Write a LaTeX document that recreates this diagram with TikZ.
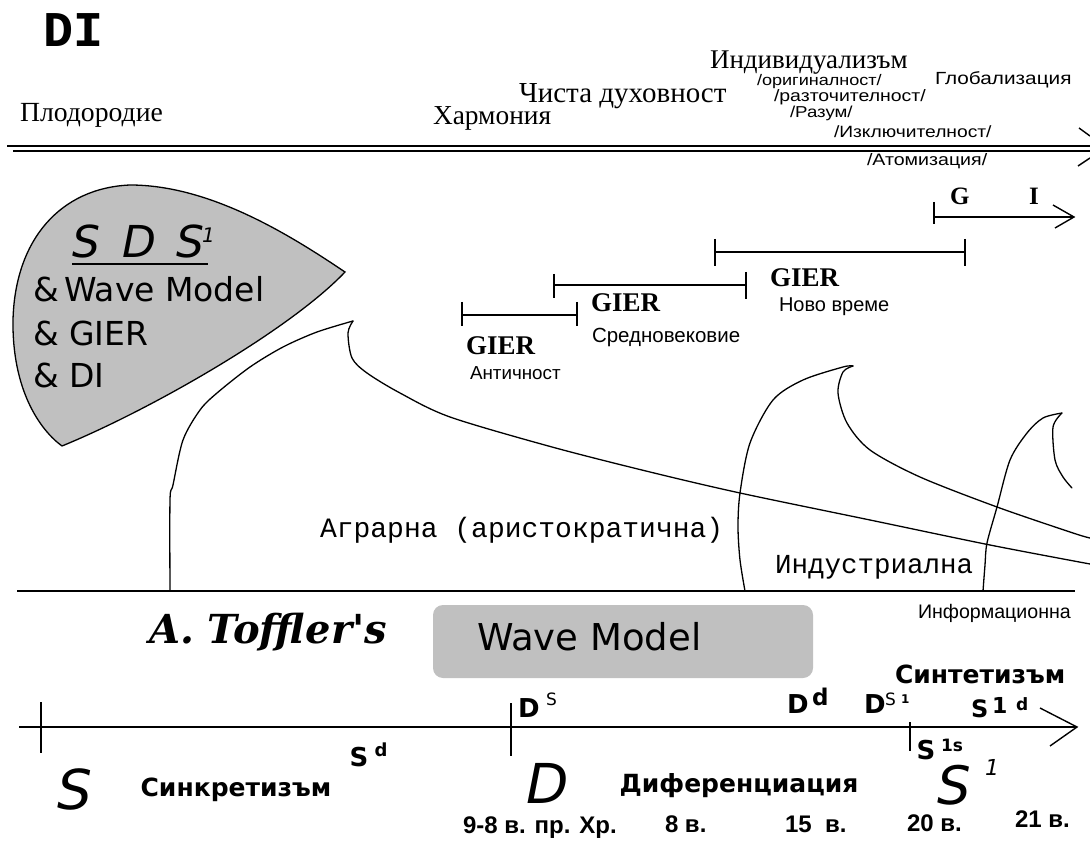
\documentclass[tikz,border=0pt]{standalone}
\usepackage{fontspec}
\setmainfont{Liberation Serif}
\newfontfamily\fSerif{Liberation Serif}
\newfontfamily\fSans{Liberation Sans}
\newfontfamily\fSansW[FakeStretch=1.18]{Liberation Sans}
\newfontfamily\fDV{DejaVu Sans}
\newfontfamily\fMono{Liberation Mono}
\newfontfamily\fDVSerif{DejaVu Serif}
\newcommand\fsz[1]{\fontsize{#1}{#1}\selectfont}
\definecolor{leafgray}{RGB}{192,192,192}
\begin{document}
\begin{tikzpicture}[x=1pt,y=-1pt,
  txt/.style={inner sep=0pt,outer sep=0pt,anchor=base west},
  ctr/.style={inner sep=0pt,outer sep=0pt,anchor=center},
  ln/.style={line width=1.4pt},
  wave/.style={line width=1.3pt,line join=round,line cap=round},
  tick/.style={line width=1.4pt}]
\useasboundingbox (0,0) rectangle (1090,850);
\fill[white] (0,0) rectangle (1090,850);
\clip (0,0) rectangle (1090,850);

% ---------- top title and double line ----------
\node[txt] (di) at (43,47) {\fMono\bfseries\fsz{50}DI};
\draw[ln,line width=1.6pt] (7,146) -- (1090,146);
\draw[ln,line width=1.6pt] (13,151) -- (1090,151);
\draw[ln] (1079,128) -- (1090,136);
\draw[ln] (1078,166) -- (1090,158);

\node[txt] (plod) at (20,122) {\fSerif\fsz{27.7}Плодородие};
\node[txt] (harm) at (433,125) {\fSerif\fsz{27.4}Хармония};
\node[txt] (chis) at (519,103) {\fSerif\fsz{29}Чиста духовност};
\node[txt] (indiv) at (710,69) {\fSerif\fsz{27}Индивидуализъм};
\node[txt] (orig) at (757,86) {\fSansW\fsz{15.3}/оригиналност/};
\node[txt] (razt) at (774,102) {\fSansW\fsz{16.5}/разточителност/};
\node[txt] (razum) at (790,118) {\fSansW\fsz{15.8}/Разум/};
\node[txt] (izkl) at (834,138) {\fSansW\fsz{16.3}/Изключителност/};
\node[txt] (atom) at (867,166) {\fSansW\fsz{16.6}/Атомизация/};
\node[txt] (glob) at (935,85) {\fSansW\fsz{17.6}Глобализация};

% ---------- G - I arrow ----------
\coordinate (gi0) at (934,217);
\coordinate (gi1) at (1074,217);
\draw[tick] (934,202) -- (934,224);
\draw[ln] (gi0) -- (gi1);
\draw[ln] (1053,205) -- (gi1) -- (1055,228);
\node[txt] (g) at (950,205) {\fSerif\bfseries\fsz{25}G};
\node[txt] (i) at (1029,205) {\fSerif\bfseries\fsz{25}I};

% ---------- GIER bars ----------
\draw[ln] (462,315) -- (577,315);
\draw[tick] (462,302) -- (462,326); \draw[tick] (577,302) -- (577,326);
\draw[ln] (554,285) -- (746,285);
\draw[tick] (554,274) -- (554,298); \draw[tick] (746,272) -- (746,299);
\draw[ln] (715,252) -- (965,252);
\draw[tick] (715,239) -- (715,266); \draw[tick] (965,239) -- (965,266);

\node[txt] (gier3) at (770,287) {\fSerif\bfseries\fsz{27}GIER};
\node[txt] (novo) at (779,312) {\fSans\fsz{20}Ново време};
\node[txt] (gier2) at (591,312) {\fSerif\bfseries\fsz{27}GIER};
\node[txt] (sredn) at (592,343) {\fSans\fsz{20.5}Средновековие};
\node[txt] (gier1) at (466,355) {\fSerif\bfseries\fsz{27}GIER};
\node[txt] (antich) at (470,380) {\fSans\fsz{18.8}Античност};

% ---------- shaded leaf ----------
\draw[fill=leafgray,line width=1.3pt] (345,272) .. controls (290,235) and (210,185) .. (130,185)
  .. controls (60,188) and (15,240) .. (13,320)
  .. controls (12,390) and (40,430) .. (62,446)
  .. controls (150,410) and (290,330) .. (345,272) -- cycle;
\node[txt] (ls1) at (72,258) {\fDV\itshape\fsz{44}S};
\node[txt] (ld) at (122,258) {\fDV\itshape\fsz{44}D};
\node[txt] (ls2) at (176,258) {\fDV\itshape\fsz{44}S};
\node[txt] (lone) at (202,243) {\fDV\itshape\fsz{20}1};
\draw[line width=1.3pt] (72,264) -- (208,264);
\node[txt] (lwm) at (33,302) {\fDV\fsz{33}\&\,Wave Model};
\node[txt] (lgier) at (33,345) {\fDV\fsz{33}\& GIER};
\node[txt] (ldi) at (33,388) {\fDV\fsz{33}\& DI};

% ---------- waves ----------
\draw[wave] plot[smooth,tension=0.5] coordinates {(170,591) (170,500) (173,485) (183,440) (200,410) (217,393) (250,367) (283,347) (317,332) (353,321)};
\draw[wave] plot[smooth,tension=0.5] coordinates {(353,321) (348,333) (352,358) (367,373) (400,393) (450,417) (552,447) (650,472) (740,493) (870,520) (990,545) (1090,564)};
\draw[wave] plot[smooth,tension=0.5] coordinates {(745,591) (740,560) (738,527) (740,493) (750,443) (773,400) (803,380) (843,367) (853,366)};
\draw[wave] plot[smooth,tension=0.5] coordinates {(853,366) (843,372) (838,393) (847,423) (870,450) (920,477) (997,507) (1073,533) (1090,538)};
\draw[wave] plot[smooth,tension=0.5] coordinates {(983,591) (985,565) (987,543) (997,507) (1010,460) (1027,433) (1043,418) (1062,413)};
\draw[wave] plot[smooth,tension=0.5] coordinates {(1062,413) (1053,427) (1055,460) (1063,477) (1072,488)};
\draw[ln] (17,591) -- (1075,591);

\node[txt] (agr) at (320,537) {\fMono\fsz{28}Аграрна (аристократична)};
\node[txt] (ind) at (775,573) {\fMono\fsz{27.5}Индустриална};
\node[txt] (inf) at (918,618) {\fSans\fsz{19.6}Информационна};

% ---------- Toffler ----------
\node[txt] (toff) at (149,643) {\fDVSerif\bfseries\itshape\fsz{40}A. Toffler's};
\fill[leafgray,rounded corners=10pt] (433,605) rectangle (813,678);
\node[txt] (wm) at (477,650) {\fDV\fsz{37}Wave Model};
\node[txt] (sint) at (895,683) {\fDV\bfseries\fsz{25}Синтетизъм};

% ---------- bottom axis ----------
\coordinate (ax0) at (19,727);
\coordinate (ax1) at (1077,727);
\draw[ln] (ax0) -- (ax1);
\draw[ln] (1040,708) -- (ax1) -- (1050,746);
\draw[tick] (41,702) -- (41,753);
\draw[tick] (511,703) -- (511,756);
\draw[tick] (910,722) -- (910,751);

\node[txt] (ds) at (518,717) {\fDV\bfseries\fsz{26}D};
\node[txt] (dss) at (546,705) {\fDV\fsz{17}S};
\node[txt] (dd) at (787,713) {\fDV\bfseries\fsz{26}D};
\node[txt] (ddd) at (812,705) {\fDV\bfseries\fsz{23}d};
\node[txt] (ds1) at (864,713) {\fDV\bfseries\fsz{26}D};
\node[txt] (ds1s) at (885,705) {\fDV\fsz{17}S};
\node[txt] (ds1o) at (901,703) {\fDV\bfseries\fsz{12}1};
\node[txt] (s1d) at (971,717) {\fDV\bfseries\fsz{24}S};
\node[txt] (s1d1) at (992,713) {\fDV\bfseries\fsz{22}1};
\node[txt] (s1dd) at (1016,710) {\fDV\bfseries\fsz{17}d};

\node[ctr] (s1s) at (926,750) {\fDV\bfseries\fsz{26}S};
\node[ctr] (s1sx) at (952,745) {\fDV\bfseries\fsz{17}1s};
\node[ctr] (sd) at (359,757) {\fDV\bfseries\fsz{26}S};
\node[ctr] (sdd) at (381,750) {\fDV\bfseries\fsz{18}d};

\node[ctr] (bigs) at (75,789) {\fDV\itshape\fsz{55}S};
\node[ctr] (bigd) at (548,783) {\fDV\itshape\fsz{55}D};
\node[ctr] (bigs1) at (954,785) {\fDV\itshape\fsz{53}S};
\node[ctr] (bigs1o) at (992,767) {\fDV\itshape\fsz{22}1};

\node[ctr] (sink) at (236,790) {\fDV\bfseries\fsz{25}Синкретизъм};
\node[ctr] (dif) at (739,786) {\fDV\bfseries\fsz{25}Диференциация};

\node[txt] (d98) at (463,833) {\fSans\bfseries\fsz{24}9-8 в. пр. Хр.};
\node[txt] (d8) at (665,832) {\fSans\bfseries\fsz{24}8 в.};
\node[txt] (d15) at (785,832) {\fSans\bfseries\fsz{24}15~~в.};
\node[txt] (d20) at (907,831) {\fSans\bfseries\fsz{24}20 в.};
\node[txt] (d21) at (1015,827) {\fSans\bfseries\fsz{24}21 в.};
\end{tikzpicture}
\end{document}
